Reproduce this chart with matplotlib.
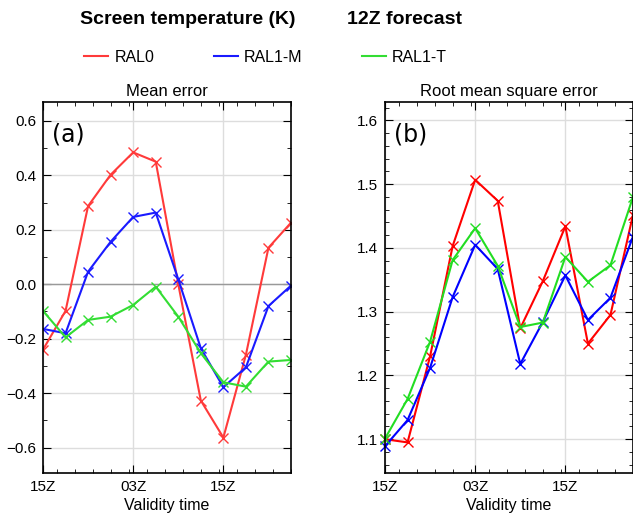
import matplotlib
matplotlib.use('Agg')
import matplotlib.pyplot as plt
from matplotlib.ticker import MultipleLocator

plt.rcParams['font.family'] = ['Liberation Sans', 'DejaVu Sans']

# validity time in hours after 00Z of day 1 (15Z .. 12Z next day + 3)
hours = [15, 18, 21, 24, 27, 30, 33, 36, 39, 42, 45, 48]
xtick_pos = [15, 27, 39]
xtick_labels = ['15Z', '03Z', '15Z']

# mean error (a)
me_ral0 = [-0.24, -0.098, 0.287, 0.402, 0.484, 0.45, 0.0, -0.427, -0.563, -0.259, 0.134, 0.226]
me_ral1m = [-0.164, -0.18, 0.046, 0.156, 0.247, 0.263, 0.018, -0.235, -0.378, -0.305, -0.08, -0.005]
me_ral1t = [-0.098, -0.195, -0.131, -0.119, -0.076, -0.009, -0.119, -0.253, -0.36, -0.376, -0.284, -0.278]

# root mean square error (b)
rms_ral0 = [1.1, 1.095, 1.23, 1.403, 1.507, 1.474, 1.274, 1.348, 1.434, 1.25, 1.295, 1.452]
rms_ral1m = [1.089, 1.13, 1.212, 1.323, 1.405, 1.367, 1.218, 1.284, 1.357, 1.287, 1.322, 1.418]
rms_ral1t = [1.101, 1.163, 1.253, 1.381, 1.431, 1.372, 1.276, 1.283, 1.386, 1.347, 1.373, 1.48]

names = ['RAL0', 'RAL1-M', 'RAL1-T']
colors_a = ['#ff3a3a', '#1a1aff', '#33dd33']
colors_b = ['#ff0000', '#0000ff', '#22dd22']

fig = plt.figure(figsize=(6.33, 5.15), dpi=100)
ax1 = fig.add_axes([43/633, 1 - 473/515, 248/633, 371/515])
ax2 = fig.add_axes([385/633, 1 - 473/515, 248/633, 371/515])


def style_axis(ax):
    ax.set_xlim(15, 48)
    ax.set_xticks(xtick_pos)
    ax.set_xticklabels(xtick_labels)
    ax.xaxis.set_minor_locator(MultipleLocator(2.4))
    ax.tick_params(which='both', direction='in', top=True, right=True, labelsize=11)
    ax.tick_params(which='major', length=6, pad=5)
    ax.tick_params(which='minor', length=3)
    ax.grid(True, color='#dddddd', linewidth=1)
    ax.set_axisbelow(True)
    for s in ax.spines.values():
        s.set_linewidth(1.2)
    ax.set_xlabel('Validity time', fontsize=11.5, labelpad=3)


for vals, c, n in zip([me_ral0, me_ral1m, me_ral1t], colors_a, names):
    ax1.plot(hours, vals, color=c, marker='x', markersize=6.5, linewidth=1.5, label=n)
ax1.axhline(0, color='#999999', linewidth=1, zorder=1)
ax1.set_ylim(-0.693, 0.669)
ax1.set_yticks([-0.6, -0.4, -0.2, 0.0, 0.2, 0.4, 0.6])
ax1.yaxis.set_minor_locator(MultipleLocator(0.1))
style_axis(ax1)
ax1.set_title('Mean error', fontsize=12, pad=4)
ax1.text(0.035, 0.945, '(a)', transform=ax1.transAxes, fontsize=17, va='top', family='DejaVu Sans')

for vals, c, n in zip([rms_ral0, rms_ral1m, rms_ral1t], colors_b, names):
    ax2.plot(hours, vals, color=c, marker='x', markersize=6.5, linewidth=1.5, label=n, clip_on=False)
ax2.set_ylim(1.047, 1.629)
ax2.set_yticks([1.1, 1.2, 1.3, 1.4, 1.5, 1.6])
ax2.yaxis.set_minor_locator(MultipleLocator(0.02))
style_axis(ax2)
ax2.set_title('Root mean square error', fontsize=12, pad=4)
ax2.text(0.035, 0.945, '(b)', transform=ax2.transAxes, fontsize=17, va='top', family='DejaVu Sans')

fig.text(188/633, 1 - 20/515, 'Screen temperature (K)', ha='center', va='center',
         fontsize=14, fontweight='bold')
fig.text(405/633, 1 - 20/515, '12Z forecast', ha='center', va='center',
         fontsize=14, fontweight='bold')

leg_handles = [plt.Line2D([], [], color=c, linewidth=1.5) for c in colors_a]
fig.legend(leg_handles, names, ncol=3, frameon=False, loc='center left',
           bbox_to_anchor=(70/633, 1 - 57/515), fontsize=11.5,
           handlelength=1.5, handletextpad=0.4, columnspacing=3.7)

fig.savefig('out.png', dpi=100)
